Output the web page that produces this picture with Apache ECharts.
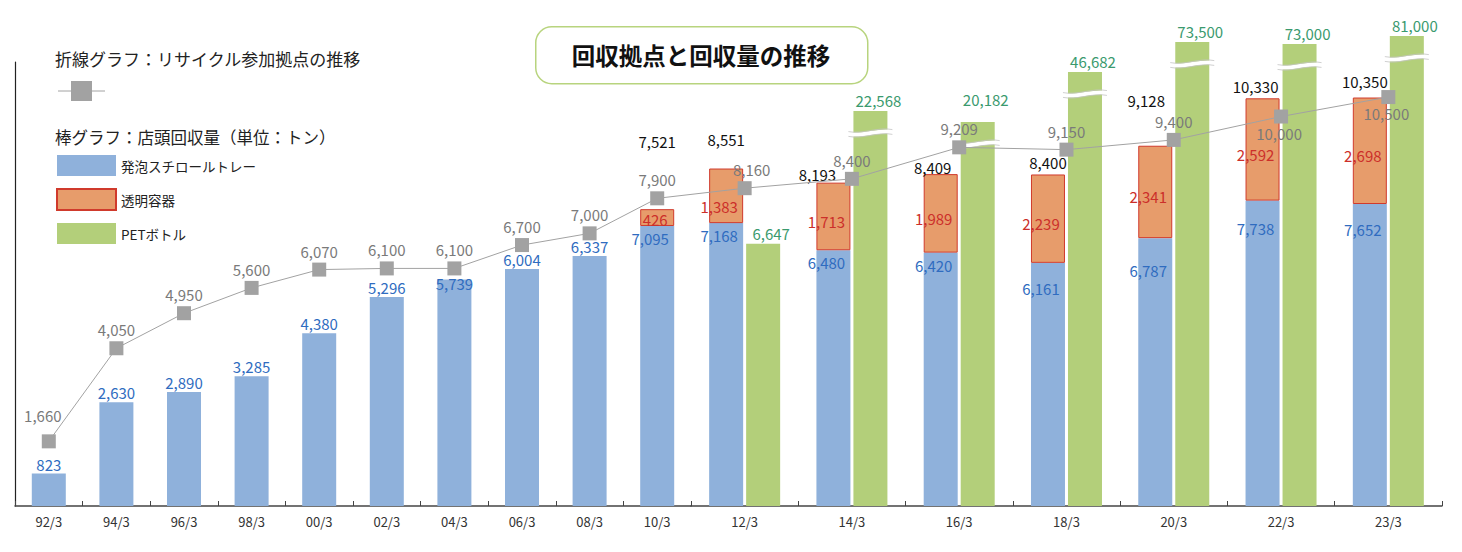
<!DOCTYPE html>
<html><head><meta charset="utf-8">
<script src="https://cdn.jsdelivr.net/npm/echarts@6/dist/echarts.min.js"></script>
<style>html,body{margin:0;padding:0;background:#fff}#c{width:1462px;height:552px}</style>
</head><body><div id="c"></div>
<script>
// ---------------- data ----------------
const categories = ['92/3','94/3','96/3','98/3','00/3','02/3','04/3','06/3','08/3','10/3','12/3','14/3','16/3','18/3','20/3','22/3','23/3'];
const trayValues = [823,2630,2890,3285,4380,5296,5739,6004,6337,7095,7168,6480,6420,6161,6787,7738,7652];
const clearValues = [null,null,null,null,null,null,null,null,null,426,1383,1713,1989,2239,2341,2592,2698];
const petValues = [null,null,null,null,null,null,null,null,null,null,6647,22568,20182,46682,73500,73000,81000];
const siteValues = [1660,4050,4950,5600,6070,6100,6100,6700,7000,7900,8160,8400,9209,9150,9400,10000,10500];

const NAME_TRAY = '発泡スチロールトレー', NAME_CLEAR = '透明容器', NAME_PET = 'PETボトル', NAME_SITE = 'リサイクル参加拠点';

// ---------------- layout / style ----------------
const FONT = "'Noto Sans CJK JP','Noto Sans',sans-serif";
const C = {blue:'#8fb1db', orange:'#e79c6b', orangeBorder:'#d03a2c', green:'#b3cf7a', line:'#a2a2a2',
  blueText:'#2f6cc0', redText:'#cc2f2a', greenText:'#3a9a6e', grayText:'#7a7a7a', black:'#111'};
const BAR_W = 34, BAR_GAP = 3;
const LATE_RATIO = 1.587;           // later categories are wider (two bars each)
const PLOT_LEFT = 15, EARLY_W = 676;
const split = petValues.findIndex(v => v != null);
const earlyCats = categories.slice(0, split), lateCats = categories.slice(split);
const LATE_W = EARLY_W / split * LATE_RATIO * lateCats.length;
const BAR_K = 444 / 11250;          // px per ton for the bar axes
const BREAK_MARK_DY = 22;

// compressed PET axis (axis breaks)
const petBreaks = [
  {start: 7000, end: 20000, gap: 2548},
  {start: 20200, end: 22550, gap: 243},
  {start: 22600, end: 46650, gap: 924},
  {start: 46700, end: 72980, gap: 671},
  {start: 73010, end: 73490, gap: 31},
  {start: 73510, end: 80990, gap: 132}
];

const labelNudge = {
  tray: {'04/3':[0,13], '18/3':[0,13], '20/3':[0,20], '22/3':[0,15], '23/3':[0,13]},
  clear: {'10/3':[5,-3], '12/3':[0,6]},
  total: {'10/3':[0,-56], '12/3':[0,-18], '14/3':[-16,3], '16/3':[-8,5], '20/3':[-9,-34], '22/3':[-7,0], '23/3':[-5,-5]},
  pet: {'16/3':[0,-12]},
  site: {'92/3':[-6,-7], '10/3':[0,0], '12/3':[7,0]}
};
const siteLabelBelow = ['22/3','23/3'];

const fmt = v => Number(v).toLocaleString('en-US');
const nudge = (t, cat, base) => { const n = t[cat] || [0,0]; return [base[0]+n[0], base[1]+n[1]]; };
const lbl = (color, extra) => Object.assign({show:true, color, fontSize:15, fontFamily:FONT}, extra || {});

function trayItems(from, to) {
  const out = [];
  for (let i = from; i < to; i++) {
    const cat = categories[i];
    const stacked = clearValues[i] != null;
    out.push({value: trayValues[i], label: stacked
      ? {position:'insideTop', distance:5, offset: nudge(labelNudge.tray, cat, [-7,0])}
      : {position:'top', distance:2, offset: nudge(labelNudge.tray, cat, [0,0])}});
  }
  return out;
}
function clearItems(from, to) {
  const out = [];
  for (let i = from; i < to; i++) {
    const v = clearValues[i];
    out.push(v == null ? null : {value: v, label:{offset: nudge(labelNudge.clear, categories[i], [-7,5])}});
  }
  return out;
}
function totalItems(from, to) {
  const out = [];
  for (let i = from; i < to; i++) {
    const v = clearValues[i];
    out.push(v == null ? null : {value: 0, label:{offset: nudge(labelNudge.total, categories[i], [0,0])}});
  }
  return out;
}
const totalFormatter = p => { const i = categories.indexOf(p.name); return fmt(trayValues[i] + clearValues[i]); };

function siteX(i) { return i < split ? i + 0.5 : split + (i - split + 0.5) * LATE_RATIO; }
const siteData = siteValues.map((v, i) => {
  const cat = categories[i];
  const below = siteLabelBelow.includes(cat);
  return {value:[siteX(i), v], label: below
    ? {position:'bottom', distance:2, offset:[-2,0]}
    : {position:'top', distance:4, offset: nudge(labelNudge.site, cat, [0,0])}};
});

const petLate = petValues.slice(split);
const petData = petLate.map((v, i) => ({value: v, label:{offset: nudge(labelNudge.pet, lateCats[i], [8,0])}}));
const breakMarkData = petLate.map((v, i) => [i, v]).filter(d => d[1] > petBreaks[0].start);

const xAxisCommon = {
  type:'category', boundaryGap:true,
  axisLine:{show:true, onZero:false, lineStyle:{color:'#444', width:1.5}},
  axisTick:{show:true, inside:true, length:5, lineStyle:{color:'#444'}},
  axisLabel:{fontSize:13, color:'#333', margin:9, fontFamily:FONT},
  splitLine:{show:false}
};

const chart = echarts.init(document.getElementById('c'), null, {renderer:'svg'});
chart.setOption({
  animation:false,
  backgroundColor:'#fff',
  textStyle:{fontFamily:FONT},
  grid:[
    {left:PLOT_LEFT, top:62, width:EARLY_W, height:444},
    {left:PLOT_LEFT + EARLY_W, top:30, width:LATE_W, height:476},
    {left:PLOT_LEFT, top:62, width:EARLY_W + LATE_W, height:444}
  ],
  xAxis:[
    Object.assign({gridIndex:0, data:earlyCats}, xAxisCommon),
    Object.assign({gridIndex:1, data:lateCats}, xAxisCommon),
    {gridIndex:2, type:'value', min:0, max: split + lateCats.length * LATE_RATIO, show:false, splitLine:{show:false}}
  ],
  yAxis:[
    {gridIndex:0, type:'value', min:0, max:444 / BAR_K, axisLine:{show:true, lineStyle:{color:'#222', width:1.2}},
      axisTick:{show:false}, axisLabel:{show:false}, splitLine:{show:false}},
    {gridIndex:1, type:'value', min:0, max:476 / BAR_K, show:false, splitLine:{show:false}},
    {gridIndex:1, type:'value', min:0, max:81152, show:false, splitLine:{show:false},
      breaks: petBreaks, breakArea:{show:false}},
    {gridIndex:2, type:'value', min:0, max:11400, show:false, splitLine:{show:false}}
  ],
  legend:{
    orient:'vertical', left:56, top:155, padding:0, itemWidth:59, itemHeight:21, itemGap:12, icon:'rect',
    selectedMode:false, data:[NAME_TRAY, NAME_CLEAR, NAME_PET],
    textStyle:{fontSize:13.5, color:'#222', fontFamily:FONT, lineHeight:21}
  },
  graphic:[
    {type:'rect', left:535, top:26, shape:{width:332, height:57, r:16}, style:{fill:'#fff', stroke:'#b8d47e', lineWidth:1.5}},
    {type:'text', x:701, y:55, style:{text:'回収拠点と回収量の推移', textAlign:'center', textVerticalAlign:'middle', fontSize:23.5, fontWeight:'bold', fill:'#111', fontFamily:FONT}},
    {type:'text', x:55, y:58.5, style:{text:'折線グラフ：リサイクル参加拠点の推移', textAlign:'left', textVerticalAlign:'middle', fontSize:17, fill:'#222', fontFamily:FONT}},
    {type:'line', shape:{x1:58, y1:91, x2:105, y2:91}, style:{stroke:C.line, lineWidth:1}},
    {type:'rect', shape:{x:71, y:81, width:21, height:20}, style:{fill:C.line}},
    {type:'text', x:55, y:137, style:{text:'棒グラフ：店頭回収量（単位：トン）', textAlign:'left', textVerticalAlign:'middle', fontSize:16.5, fill:'#222', fontFamily:FONT}}
  ],
  series:[
    // early part
    {name:NAME_TRAY, type:'bar', xAxisIndex:0, yAxisIndex:0, stack:'a', stackStrategy:'all', barWidth:BAR_W,
      itemStyle:{color:C.blue}, label:lbl(C.blueText, {formatter:p=>fmt(p.value)}), data:trayItems(0, split)},
    {name:NAME_CLEAR, type:'bar', xAxisIndex:0, yAxisIndex:0, stack:'a', stackStrategy:'all', barWidth:BAR_W,
      itemStyle:{color:C.orange, borderColor:C.orangeBorder, borderWidth:1},
      label:lbl(C.redText, {position:'inside', formatter:p=>fmt(p.value)}), data:clearItems(0, split)},
    {name:'合計', type:'bar', xAxisIndex:0, yAxisIndex:0, stack:'a', stackStrategy:'all', barWidth:BAR_W,
      itemStyle:{color:'transparent'}, label:lbl(C.black, {position:'top', distance:4, formatter:totalFormatter}), data:totalItems(0, split)},
    // late part
    {name:NAME_TRAY, type:'bar', xAxisIndex:1, yAxisIndex:1, stack:'b', stackStrategy:'all', barWidth:BAR_W, barGap:(BAR_GAP/BAR_W*100)+'%',
      itemStyle:{color:C.blue}, label:lbl(C.blueText, {formatter:p=>fmt(p.value)}), data:trayItems(split, categories.length)},
    {name:NAME_CLEAR, type:'bar', xAxisIndex:1, yAxisIndex:1, stack:'b', stackStrategy:'all', barWidth:BAR_W,
      itemStyle:{color:C.orange, borderColor:C.orangeBorder, borderWidth:1},
      label:lbl(C.redText, {position:'inside', formatter:p=>fmt(p.value)}), data:clearItems(split, categories.length)},
    {name:'合計', type:'bar', xAxisIndex:1, yAxisIndex:1, stack:'b', stackStrategy:'all', barWidth:BAR_W,
      itemStyle:{color:'transparent'}, label:lbl(C.black, {position:'top', distance:4, formatter:totalFormatter}), data:totalItems(split, categories.length)},
    {name:NAME_PET, type:'bar', xAxisIndex:1, yAxisIndex:2, barWidth:BAR_W, clip:false,
      itemStyle:{color:C.green}, label:lbl(C.greenText, {position:'top', distance:3, formatter:p=>fmt(p.value)}), data:petData},
    {type:'custom', xAxisIndex:1, yAxisIndex:2, z:4, clip:false, silent:true, encode:{x:0, y:1},
      data:breakMarkData,
      renderItem:(params, api) => {
        const p = api.coord([api.value(0), api.value(1)]);
        const x0 = p[0] + BAR_GAP/2 - 5, x1 = p[0] + BAR_GAP/2 + BAR_W + 5, mid = (x0 + x1) / 2;
        const y = p[1] + BREAK_MARK_DY;
        const curve = (dy, stroke, lw) => ({type:'bezierCurve',
          shape:{x1:x0, y1:y+dy+1, x2:x1, y2:y+dy-1, cpx1:mid-8, cpy1:y+dy+4, cpx2:mid+8, cpy2:y+dy-4},
          style:{stroke, lineWidth:lw, fill:null}});
        return {type:'group', children:[curve(0, '#fff', 4), curve(-2.4, '#c4c4c4', 0.8), curve(2.4, '#c4c4c4', 0.8)]};
      }},
    // line
    {name:NAME_SITE, type:'line', xAxisIndex:2, yAxisIndex:3, z:5, symbol:'rect', symbolSize:14,
      lineStyle:{color:C.line, width:1}, itemStyle:{color:C.line},
      label:lbl(C.grayText, {formatter:p=>fmt(p.value[1])}), data:siteData}
  ]
});
</script>
</body></html>
